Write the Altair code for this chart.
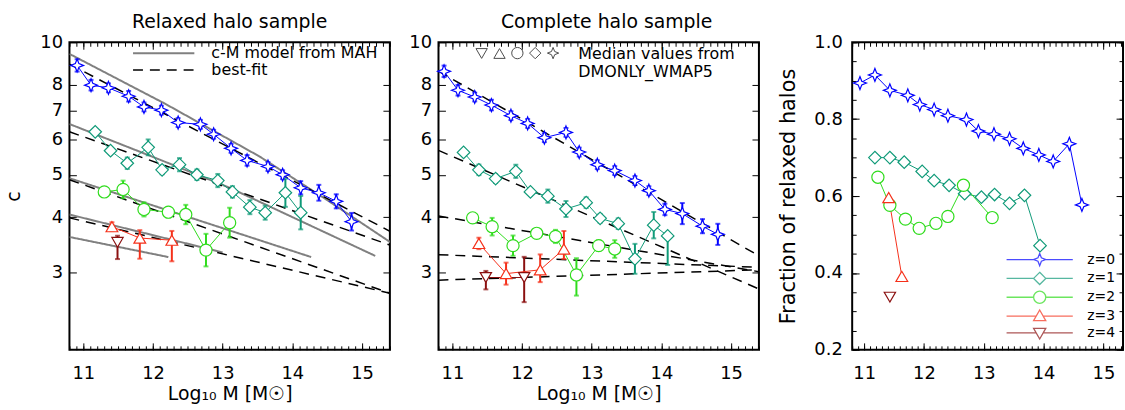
import altair as alt
import pandas as pd

FONT = "DejaVu Sans"
ZS = ["z=0", "z=1", "z=2", "z=3", "z=4"]
COLORS = ["#0000ff", "#0f9a78", "#2fdc1c", "#f5301a", "#8b1010"]
GRAY = "#808080"
XTITLE = "Log\u2081\u2080 M [M\u2609]"

# ---------------- Relaxed halo sample (median c with errors in dex) ----------------
rel_x = [
    [10.91, 11.11, 11.36, 11.65, 11.87, 12.12, 12.36, 12.68, 12.87, 13.12, 13.35, 13.65, 13.86, 14.12, 14.38, 14.63, 14.85],
    [11.17, 11.39, 11.63, 11.93, 12.13, 12.38, 12.63, 12.93, 13.14, 13.39, 13.61, 13.90, 14.12],
    [11.30, 11.57, 11.87, 12.22, 12.47, 12.76, 13.10],
    [11.41, 11.81, 12.27],
    [11.49],
]
rel_c = [
    [8.86, 7.99, 7.88, 7.54, 7.13, 7.01, 6.57, 6.51, 6.18, 5.74, 5.39, 5.22, 5.00, 4.67, 4.55, 4.35, 3.91],
    [6.26, 5.67, 5.31, 5.77, 5.13, 5.27, 5.00, 4.85, 4.57, 4.22, 4.10, 4.55, 4.10],
    [4.57, 4.63, 4.17, 4.11, 4.06, 3.37, 3.89],
    [3.81, 3.59, 3.55],
    [3.51],
]
rel_eu = [
    [0.014, 0.012, 0.010, 0.012, 0.010, 0.010, 0.010, 0.010, 0.010, 0.010, 0.012, 0.010, 0.010, 0.015, 0.018, 0.016, 0.020],
    [0.006, 0.008, 0.013, 0.018, 0.010, 0.015, 0.012, 0.015, 0.013, 0.016, 0.016, 0.032, 0.038],
    [0.005, 0.020, 0.016, 0.012, 0.022, 0.037, 0.034],
    [0.010, 0.018, 0.021],
    [0.015],
]
rel_ed = [
    [0.014, 0.012, 0.010, 0.012, 0.010, 0.010, 0.010, 0.010, 0.010, 0.010, 0.012, 0.010, 0.010, 0.015, 0.018, 0.016, 0.020],
    [0.006, 0.008, 0.013, 0.018, 0.010, 0.015, 0.012, 0.015, 0.013, 0.016, 0.016, 0.032, 0.038],
    [0.005, 0.020, 0.016, 0.012, 0.022, 0.037, 0.034],
    [0.010, 0.047, 0.048],
    [0.038],
]

# c-M model from MAH (relaxed panel)
model_x = [
    [10.80, 12.18, 13.53, 14.48, 15.41],
    [10.80, 11.96, 13.10, 15.19],
    [10.80, 14.27],
    [10.80, 13.00],
    [10.80, 12.22],
]
model_c = [
    [9.41, 7.24, 5.50, 4.40, 3.51],
    [6.52, 5.52, 4.67, 3.27],
    [4.91, 3.25],
    [4.06, 3.33],
    [3.61, 3.25],
]

# best-fit power laws (values at the two ends of the mass range)
BF_X = [10.8, 15.4]
bf_rel_start = [8.92, 6.26, 4.87, 3.99]
bf_rel_end = [3.72, 3.46, 2.69, 2.69]
bf_all_start = [8.60, 5.68, 4.03, 3.29, 2.88]
bf_all_end = [3.27, 2.75, 3.01, 3.08, 3.04]

# ---------------- Complete halo sample ----------------
all_x = [
    [10.88, 11.08, 11.32, 11.56, 11.84, 12.08, 12.32, 12.63, 12.82, 13.08, 13.33, 13.62, 13.82, 14.05, 14.30, 14.59, 14.81],
    [11.16, 11.38, 11.62, 11.91, 12.12, 12.37, 12.63, 12.92, 13.12, 13.38, 13.62, 13.89, 14.09],
    [11.29, 11.57, 11.87, 12.21, 12.48, 12.78, 13.10, 13.33],
    [11.38, 11.77, 12.26, 12.60],
    [11.48, 12.03],
]
all_c = [
    [8.59, 7.78, 7.51, 7.20, 6.81, 6.54, 6.07, 6.24, 5.63, 5.27, 5.11, 4.85, 4.60, 4.17, 4.08, 3.82, 3.66],
    [5.62, 5.13, 4.90, 5.09, 4.57, 4.47, 4.18, 4.32, 3.98, 3.87, 3.22, 3.84, 3.63],
    [3.99, 3.81, 3.45, 3.68, 3.62, 2.96, 3.45, 3.39],
    [3.49, 2.98, 3.04, 3.39],
    [2.92, 2.92],
]
all_eu = [
    [0.013, 0.012, 0.010, 0.012, 0.010, 0.010, 0.010, 0.010, 0.010, 0.010, 0.010, 0.010, 0.010, 0.013, 0.024, 0.016, 0.024],
    [0.005, 0.012, 0.010, 0.015, 0.008, 0.015, 0.018, 0.012, 0.010, 0.012, 0.034, 0.030, 0.004],
    [0.005, 0.020, 0.023, 0.010, 0.015, 0.038, 0.012, 0.020],
    [0.013, 0.025, 0.035, 0.041],
    [0.015, 0.047],
]
all_ed = [
    [0.013, 0.012, 0.010, 0.012, 0.010, 0.010, 0.010, 0.010, 0.010, 0.010, 0.010, 0.010, 0.010, 0.013, 0.024, 0.016, 0.024],
    [0.005, 0.012, 0.010, 0.015, 0.008, 0.015, 0.018, 0.012, 0.010, 0.012, 0.034, 0.030, 0.066],
    [0.005, 0.020, 0.023, 0.010, 0.015, 0.047, 0.012, 0.020],
    [0.013, 0.025, 0.028, 0.023],
    [0.027, 0.056],
]

# ---------------- Fraction of relaxed halos ----------------
frac_x = [
    [10.93, 11.18, 11.43, 11.73, 11.93, 12.17, 12.40, 12.71, 12.91, 13.17, 13.43, 13.66, 13.92, 14.16, 14.43, 14.64],
    [11.18, 11.43, 11.67, 11.97, 12.17, 12.42, 12.68, 12.96, 13.18, 13.43, 13.68, 13.94],
    [11.23, 11.43, 11.69, 11.92, 12.20, 12.40, 12.66, 13.14],
    [11.41, 11.63],
    [11.43],
]
frac_v = [
    [0.894, 0.915, 0.875, 0.862, 0.838, 0.825, 0.809, 0.799, 0.769, 0.761, 0.749, 0.724, 0.707, 0.690, 0.736, 0.577],
    [0.700, 0.700, 0.688, 0.664, 0.640, 0.628, 0.606, 0.597, 0.604, 0.581, 0.602, 0.471],
    [0.649, 0.576, 0.540, 0.516, 0.529, 0.547, 0.628, 0.544],
    [0.596, 0.391],
    [0.337],
]

# ---------------- marker shapes ----------------
STAR = "M0,-1L0.28,-0.28L1,0L0.28,0.28L0,1L-0.28,0.28L-1,0L-0.28,-0.28Z"
SHAPES = [STAR, "diamond", "circle", "triangle-up", "triangle-down"]
SIZES = [170, 130, 130, 150, 150]
CIRC = "M1,0C1,0.5523,0.5523,1,0,1C-0.5523,1,-1,0.5523,-1,0C-1,-0.5523,-0.5523,-1,0,-1C0.5523,-1,1,-0.5523,1,0Z"
LL = "5.45"
LEG_PATHS = [
    "M-" + LL + ",0H-1M1,0H" + LL + STAR,
    "M-" + LL + ",0H-1M1,0H" + LL + "M0,-1L1,0L0,1L-1,0Z",
    "M-" + LL + ",0H-1M1,0H" + LL + CIRC,
    "M-" + LL + ",0H-0.57M0.57,0H" + LL + "M0,-1L1,0.75L-1,0.75Z",
    "M-" + LL + ",0H-0.57M0.57,0H" + LL + "M0,1L1,-0.75L-1,-0.75Z",
]


def med_frame(xs, cs, eu, ed):
    rows = []
    for k, z in enumerate(ZS):
        for x, c, u, d in zip(xs[k], cs[k], eu[k], ed[k]):
            rows.append({"z": z, "x": x, "c": c, "lo": c / 10 ** d, "hi": c * 10 ** u})
    return pd.DataFrame(rows)


def line_rows(kind, xs, cs):
    rows = []
    for k in range(len(xs)):
        for x, c in zip(xs[k], cs[k]):
            rows.append({"kind": kind, "grp": kind + str(k), "x": x, "c": c})
    return rows


df_rel = med_frame(rel_x, rel_c, rel_eu, rel_ed)
df_all = med_frame(all_x, all_c, all_eu, all_ed)
df_lines_rel = pd.DataFrame(
    line_rows("c-M model from MAH", model_x, model_c)
    + line_rows("best-fit", [BF_X] * len(bf_rel_start), [[a, b] for a, b in zip(bf_rel_start, bf_rel_end)])
)
df_lines_all = pd.DataFrame(
    line_rows("best-fit", [BF_X] * len(bf_all_start), [[a, b] for a, b in zip(bf_all_start, bf_all_end)])
)
df_frac = pd.DataFrame(
    [{"z": z, "x": x, "f": f} for k, z in enumerate(ZS) for x, f in zip(frac_x[k], frac_v[k])]
)

# ---------------- scales & axes ----------------
XSC = alt.Scale(domain=[10.8, 15.4], nice=False, zero=False)
XSC_R = alt.Scale(domain=[10.8, 15.327], nice=False, zero=False)
YSC = alt.Scale(type="log", domain=[2, 10], nice=False)
FSC = alt.Scale(domain=[0.2, 1.0], nice=False, zero=False)
SSC = alt.Scale(domain=ZS, range=COLORS)
SHSC = alt.Scale(domain=ZS, range=SHAPES)
SZSC = alt.Scale(domain=ZS, range=SIZES)

XMAJ = [11, 12, 13, 14, 15]
XMIN = [round(10.8 + 0.1 * i, 1) for i in range(47)]
YMAJ = [3, 4, 5, 6, 7, 8, 10]
FMAJ = [0.2, 0.4, 0.6, 0.8, 1.0]
FMIN = [round(0.2 + 0.05 * i, 2) for i in range(17)]


def axis(orient, values, size, labels=False, title=None, fmt="d", lpad=7, tpad=10, tsize=19):
    kw = dict(orient=orient, values=values, tickSize=size, offset=-size, domain=False, grid=False,
              ticks=True, tickColor="black", tickWidth=1, labels=labels, title=title)
    if labels:
        kw.update(format=fmt, labelFont=FONT, labelFontSize=18, labelColor="black",
                  labelPadding=lpad, labelOverlap=False, labelFlush=False)
    if title:
        kw.update(titleFont=FONT, titleFontSize=tsize, titleFontWeight="normal",
                  titleColor="black", titlePadding=tpad)
    return alt.Axis(**kw)


def data_layers(df, xsc, ysc, yfield, ax_sets, with_err=True):
    """ax_sets: list of (xaxis, yaxis) for successive layers."""
    layers = []
    i = 0
    if with_err:
        layers.append(
            alt.Chart(df).mark_rule(strokeWidth=2).encode(
                x=alt.X("x:Q", scale=xsc, axis=ax_sets[i][0]),
                y=alt.Y("lo:Q", scale=ysc, axis=ax_sets[i][1]),
                y2="hi:Q",
                stroke=alt.Stroke("z:N", scale=SSC, legend=None),
            )
        )
        i += 1
        layers.append(
            alt.Chart(df).transform_fold(["lo", "hi"], as_=["end", "val"]).mark_tick(
                orient="horizontal", size=5, thickness=2
            ).encode(
                x=alt.X("x:Q", scale=xsc, axis=ax_sets[i][0]),
                y=alt.Y("val:Q", scale=ysc, axis=ax_sets[i][1]),
                fill=alt.Fill("z:N", scale=SSC, legend=None),
            )
        )
        i += 1
    layers.append(
        alt.Chart(df).mark_line(strokeWidth=1).encode(
            x=alt.X("x:Q", scale=xsc, axis=ax_sets[i][0]),
            y=alt.Y(yfield + ":Q", scale=ysc, axis=ax_sets[i][1]),
            stroke=alt.Stroke("z:N", scale=SSC, legend=None),
        )
    )
    i += 1
    layers.append(
        alt.Chart(df).mark_point(filled=True, fill="white", strokeWidth=1.2, opacity=1).encode(
            x=alt.X("x:Q", scale=xsc, axis=ax_sets[i][0]),
            y=alt.Y(yfield + ":Q", scale=ysc, axis=ax_sets[i][1]),
            stroke=alt.Stroke("z:N", scale=SSC, legend=None),
            shape=alt.Shape("z:N", scale=SHSC, legend=None),
            size=alt.Size("z:O", scale=SZSC, legend=None),
        )
    )
    return layers


def title(txt, dx=0):
    return alt.TitleParams(txt, font=FONT, fontSize=19, fontWeight="normal", color="black", offset=1, dx=dx)


# ---------------- left panel ----------------
KDOM = ["c-M model from MAH", "best-fit"]
LEG_KIND = alt.Legend(orient="none", legendX=87, legendY=3, title=None, symbolType="M-10.3,0H10.3",
                      symbolSize=36, labelFont=FONT, labelFontSize=16, labelColor="black",
                      labelOffset=40, labelLimit=400, rowPadding=1, padding=0)
lines_left = alt.Chart(df_lines_rel).mark_line(clip=True).encode(
    x=alt.X("x:Q", scale=XSC, axis=axis("bottom", XMAJ, 7, labels=True, title=XTITLE, lpad=15, tpad=2)),
    y=alt.Y("c:Q", scale=YSC, axis=axis("left", YMAJ, 7, labels=True, title="c", lpad=7, tpad=16)),
    detail="grp:N",
    color=alt.Color("kind:N", scale=alt.Scale(domain=KDOM, range=[GRAY, "black"]), legend=LEG_KIND),
    strokeDash=alt.StrokeDash("kind:N", scale=alt.Scale(domain=KDOM, range=[[1, 0], [10, 7]]), legend=LEG_KIND),
    strokeWidth=alt.StrokeWidth("kind:N", scale=alt.Scale(domain=KDOM, range=[2, 1.5]), legend=LEG_KIND),
)
left_axes = [
    (axis("bottom", XMIN, 4), None),
    (axis("top", XMAJ, 7), axis("right", YMAJ, 7)),
    (axis("top", XMIN, 4), None),
    (None, None),
]
left = alt.layer(lines_left, *data_layers(df_rel, XSC, YSC, "c", left_axes)).resolve_axis(
    x="independent", y="independent"
).properties(width=323, height=310, title=title("Relaxed halo sample"))

# ---------------- middle panel ----------------
ZR = ZS[::-1]
LEG_MED = alt.Legend(orient="none", legendX=37, legendY=4, direction="horizontal",
                     title=["Median values from", "DMONLY_WMAP5"], titleOrient="right",
                     titleAnchor="start",
                     titleFont=FONT, titleFontSize=16, titleFontWeight="normal", titleColor="black",
                     titlePadding=18, titleLineHeight=18, titleLimit=170,
                     labelExpr="''", labelOffset=0, columnPadding=1, symbolSize=130,
                     symbolStrokeWidth=1, padding=0)
lines_mid = alt.Chart(df_lines_all).mark_line(clip=True, color="black", strokeDash=[10, 7], strokeWidth=1.5).encode(
    x=alt.X("x:Q", scale=XSC, axis=axis("bottom", XMAJ, 7, labels=True, title=XTITLE, lpad=15, tpad=2)),
    y=alt.Y("c:Q", scale=YSC, axis=axis("left", YMAJ, 7, labels=True, lpad=7)),
    detail="grp:N",
)
mid_legend = alt.Chart(df_all).transform_filter("false").mark_point(
    filled=False, color="black", strokeWidth=1
).encode(
    x=alt.X("x:Q", scale=XSC, axis=None),
    y=alt.Y("c:Q", scale=YSC, axis=None),
    shape=alt.Shape("z:N", scale=alt.Scale(domain=ZR, range=SHAPES[::-1]), legend=LEG_MED),
)
middle = alt.layer(lines_mid, *data_layers(df_all, XSC, YSC, "c", left_axes), mid_legend).resolve_axis(
    x="independent", y="independent"
).resolve_scale(shape="independent").properties(
    width=323, height=310, title=title("Complete halo sample", dx=8)
)

# ---------------- right panel ----------------
LEG_FR = alt.Legend(orient="none", legendX=182, legendY=212, title=None, symbolSize=150,
                    symbolStrokeWidth=1.3, labelFont=FONT, labelFontSize=14, labelColor="black",
                    labelOffset=41, rowPadding=1, padding=0)
right_axes = [
    (axis("bottom", XMAJ, 7, labels=True, lpad=15),
     axis("left", FMAJ, 7, labels=True, fmt=".1f", title="Fraction of relaxed halos", lpad=10, tpad=16,
          tsize=21)),
    (axis("bottom", XMIN, 4), axis("left", FMIN, 4)),
]
fr_layers = data_layers(df_frac, XSC_R, FSC, "f", right_axes, with_err=False)
legend_layer = alt.Chart(df_frac).transform_filter("false").mark_point(filled=False, strokeWidth=1.3).encode(
    x=alt.X("x:Q", scale=XSC_R, axis=axis("top", XMAJ, 7)),
    y=alt.Y("f:Q", scale=FSC, axis=axis("right", FMAJ, 7)),
    shape=alt.Shape("z:N", scale=alt.Scale(domain=ZS, range=LEG_PATHS), legend=LEG_FR),
    stroke=alt.Stroke("z:N", scale=SSC, legend=LEG_FR),
)
carrier = alt.Chart(df_frac).mark_point(opacity=0).encode(
    x=alt.X("x:Q", scale=XSC_R, axis=axis("top", XMIN, 4)),
    y=alt.Y("f:Q", scale=FSC, axis=axis("right", FMIN, 4)),
)
right = alt.layer(*fr_layers, legend_layer, carrier).resolve_axis(
    x="independent", y="independent"
).resolve_scale(shape="independent", stroke="independent").properties(
    width=273, height=310, title=title(" ")
)

RES = dict(color="independent", stroke="independent", shape="independent", fill="independent",
           strokeDash="independent", strokeWidth="independent", size="independent")
inner = alt.hconcat(left, middle, spacing=16).resolve_scale(**RES)
chart = alt.hconcat(inner, right, spacing=15).resolve_scale(**RES).properties(
    padding={"left": 4, "top": 11, "right": 0, "bottom": 0}
).configure_view(stroke="black", strokeWidth=2)

chart.save("out.html", embed_options={"renderer": "svg", "actions": False})
